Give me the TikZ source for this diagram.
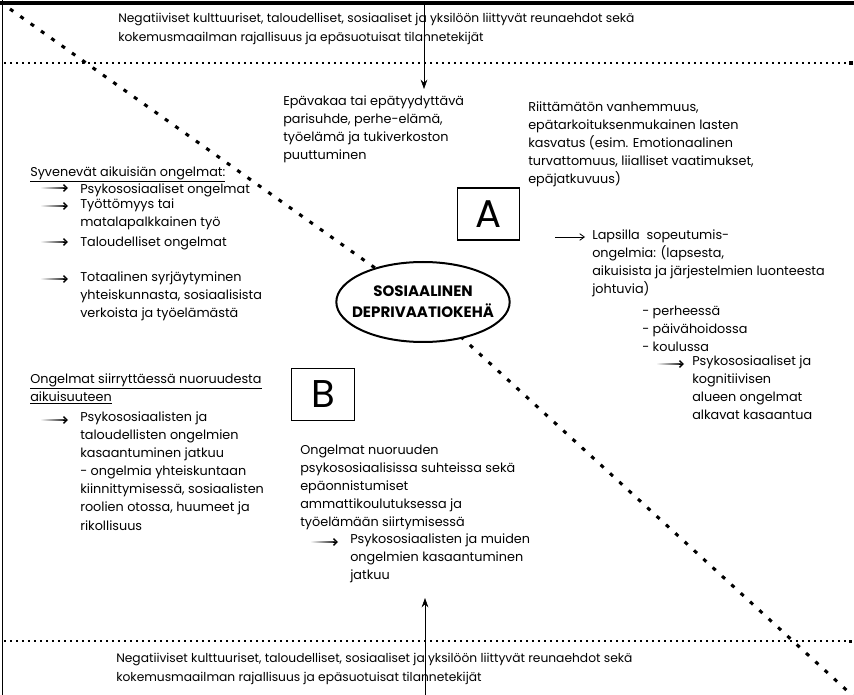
\documentclass[tikz,border=0pt]{standalone}
\usepackage{fontspec}
\setmainfont{Poppins}
\usetikzlibrary{arrows.meta,shapes.geometric,calc}
\newcommand\gradarrow[3]{%
  \coordinate (#1s) at (#2,#3);
  \coordinate (#1e) at ($(#1s)+(28,0)$);
  \shade[left color=white, right color=black!85] ($(#1s)+(0,-0.7)$) rectangle ($(#1e)+(-3,0.7)$);
  \draw[barb] ($(#1e)+(-5,0)$) -- (#1e);
}
\begin{document}
\begin{tikzpicture}[x=0.75pt,y=-0.75pt,
  font=\fontsize{9.6}{13.6}\selectfont,
  txt/.style={anchor=north west, inner sep=0pt, align=left, execute at begin node=\strut},
  edgetxt/.style={txt, font=\fontsize{9.2}{14.25}\selectfont},
  barb/.style={-{Straight Barb[length=2.6pt,width=5pt,line width=1.1pt]}, line width=0.5pt},
  plainarrow/.style={-{Straight Barb[length=3.5pt,width=5pt]}, line width=0.6pt},
  vline/.style={line width=0.5pt},
  hdots/.style={line width=1.2pt, dash pattern=on 1.2pt off 3.3pt},
  diag/.style={line width=2.3pt, dash pattern=on 3pt off 6.5pt},
  letterbox/.style={draw, line width=0.8pt, minimum width=47pt, minimum height=39pt, inner sep=0pt, font=\fontsize{29}{29}\selectfont},
  centre/.style={ellipse, draw, line width=1.5pt, fill=white, minimum width=130pt, minimum height=60pt, inner sep=0pt},
  centretext/.style={inner sep=0pt, align=center, font=\fontsize{11.3}{15.8}\selectfont\bfseries}]
\useasboundingbox (0,0) rectangle (854,695);
% frame
\coordinate (ftl) at (0,3.5);
\coordinate (ftr) at (854,3.5);
\coordinate (fl0) at (2.5,0);
\coordinate (fl1) at (2.5,695);
\draw[line width=3pt] (ftl) -- (ftr);
\draw[line width=1.4pt] (fl0) -- (fl1);
% dotted horizontal lines
\coordinate (h1a) at (4,63); \coordinate (h1b) at (849,63);
\coordinate (h2a) at (4,641); \coordinate (h2b) at (849,641);
\draw[hdots] (h1a) -- (h1b);
\draw[hdots] (h2a) -- (h2b);
\fill (h1b) ++(0,-2) rectangle ++(4,4);
\fill (h2b) ++(0,-1.5) rectangle ++(3,3);
% diagonal
\coordinate (dtl) at (10,9);
\coordinate (ec) at (423,302);
\coordinate (dbr) at (854,697);
\draw[diag] (dtl) -- (ec) -- (dbr);
\node[centre] (ell) at (ec) {};
\node[centretext] (elltext) at (ell.center) {SOSIAALINEN\\DEPRIVAATIOKEHÄ};
% letter boxes
\node[letterbox] (A) at (488.5,214) {A};
\node[letterbox] (B) at (323,394.5) {B};
% top and bottom texts
\node[edgetxt] (toptext) at (118,12.7) {Negatiiviset kulttuuriset, taloudelliset, sosiaaliset ja yksilöön liittyvät reunaehdot sekä\\kokemusmaailman rajallisuus ja epäsuotuisat tilannetekijät};
\node[edgetxt] (bottext) at (116,652.7) {Negatiiviset kulttuuriset, taloudelliset, sosiaaliset ja yksilöön liittyvät reunaehdot sekä\\kokemusmaailman rajallisuus ja epäsuotuisat tilannetekijät};
% vertical arrows
\coordinate (ta0) at (424,3); \coordinate (ta1) at (424,89);
\draw[vline, -{Stealth[length=7pt,width=5pt]}] (ta0) -- (ta1);
\coordinate (ba0) at (425,695); \coordinate (ba1) at (425,598);
\draw[vline, -{Stealth[length=7pt,width=5pt]}] (ba0) -- (ba1);
% upper middle
\node[txt] (epav) at (283,95.3) {Epävakaa tai epätyydyttävä\\parisuhde, perhe-elämä,\\työelämä ja tukiverkoston\\puuttuminen};
% upper right
\node[txt] (riit) at (528,101.3) {Riittämätön vanhemmuus,\\epätarkoituksenmukainen lasten\\kasvatus (esim. Emotionaalinen\\turvattomuus, liialliset vaatimukset,\\epäjatkuvuus)};
% left upper block
\node[txt] (syv) at (30,163.3) {\underline{Syvenevät aikuisiän ongelmat:}};
\node[txt] (l1) at (80,180.3) {Psykososiaaliset ongelmat};
\node[txt] (l2) at (80,198.3) {Työttömyys tai\\matalapalkkainen työ};
\node[txt] (l3) at (80,233.3) {Taloudelliset ongelmat};
\node[txt] (l4) at (80,271.3) {Totaalinen syrjäytyminen\\yhteiskunnasta, sosiaalisista\\verkoista ja työelämästä};
\gradarrow{la1}{40}{188}
\gradarrow{la2}{40}{206}
\gradarrow{la3}{40}{242}
\gradarrow{la4}{40}{279}
% right block
\coordinate (ra0) at (555,237); \coordinate (ra1) at (585,237);
\draw[plainarrow] (ra0) -- (ra1);
\node[txt] (laps) at (592,229.3) {Lapsilla~~sopeutumis-\\ongelmia: (lapsesta,\\aikuisista ja järjestelmien luonteesta\\johtuvia)};
\node[txt] (paik) at (642,305.3) {- perheessä\\- päivähoidossa\\- koulussa};
\gradarrow{ra2}{656}{364}
\node[txt] (kogn) at (692,355.3) {Psykososiaaliset ja\\kognitiivisen\\alueen ongelmat\\alkavat kasaantua};
% left lower block
\node[txt] (ong) at (30,373.3) {\underline{Ongelmat siirryttäessä nuoruudesta}\\\underline{aikuisuuteen}};
\gradarrow{lb1}{40}{420}
\node[txt] (psyk) at (80,411.3) {Psykososiaalisten ja\\taloudellisten ongelmien\\kasaantuminen jatkuu\\- ongelmia yhteiskuntaan\\kiinnittymisessä, sosiaalisten\\roolien otossa, huumeet ja\\rikollisuus};
% lower middle block
\node[txt] (nuor) at (300,444.3) {Ongelmat nuoruuden\\psykososiaalisissa suhteissa sekä\\epäonnistumiset\\ammattikoulutuksessa ja\\työelämään siirtymisessä};
\gradarrow{mb1}{310}{542}
\node[txt] (muid) at (350,533.3) {Psykososiaalisten ja muiden\\ongelmien kasaantuminen\\jatkuu};
\end{tikzpicture}
\end{document}
